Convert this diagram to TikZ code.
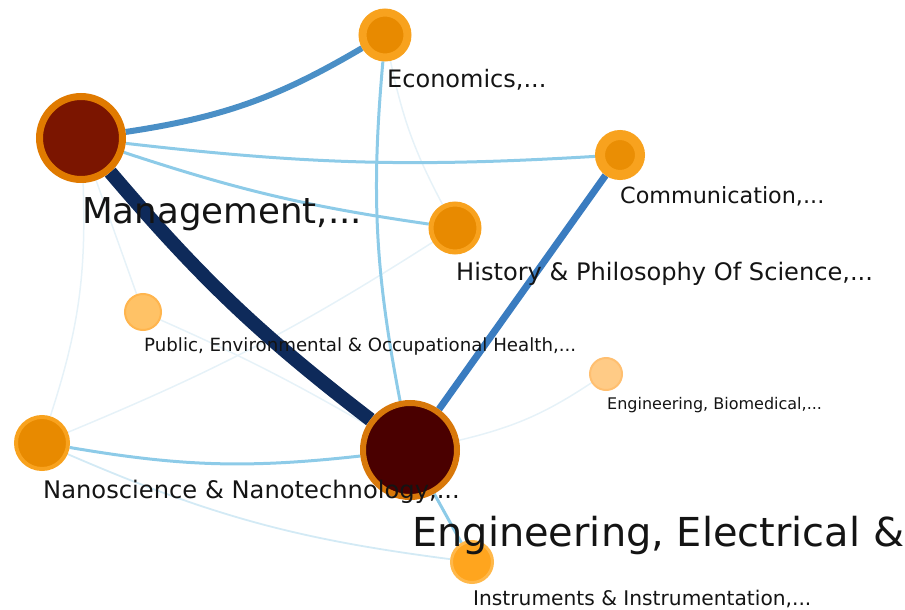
\documentclass[tikz,border=0pt]{standalone}
\usepackage{fontspec}
\setmainfont{DejaVu Sans}
\usetikzlibrary{backgrounds}

% node palette
\definecolor{mgmtfill}{HTML}{7B1500}
\definecolor{mgmtring}{HTML}{E07A00}
\definecolor{eefill}{HTML}{4A0000}
\definecolor{eering}{HTML}{D8780A}
\definecolor{midfill}{HTML}{E88A00}
\definecolor{midring}{HTML}{F8A21E}
\definecolor{pubfill}{HTML}{FFC266}
\definecolor{pubring}{HTML}{FFB54E}
\definecolor{biofill}{HTML}{FFCB86}
\definecolor{bioring}{HTML}{FFBF70}
\definecolor{insfill}{HTML}{FFA51E}
\definecolor{insring}{HTML}{FFB84A}
% edge palette
\definecolor{navy}{HTML}{0E2A5A}
\definecolor{midblue}{HTML}{4A8FC6}
\definecolor{strongblue}{HTML}{3A7CC0}
\definecolor{lightblue}{HTML}{8DCBE8}
\definecolor{paleblue}{HTML}{D3EAF5}
\definecolor{faintblue}{HTML}{E6F2F8}

\tikzset{
  bubble/.style={circle, inner sep=0pt},
  lab/.style={anchor=base west, inner sep=0pt, text=black!92},
  heavy/.style={draw=navy, line width=14pt},
  medium/.style={draw=midblue, line width=6pt},
  strong/.style={draw=strongblue, line width=7pt},
  light/.style={draw=lightblue, line width=3pt},
  pale/.style={draw=paleblue, line width=1.8pt},
  faint/.style={draw=faintblue, line width=1.5pt},
}
\newcommand{\fs}[1]{\fontsize{#1}{#1}\selectfont}

\begin{document}
\begin{tikzpicture}[x=1pt,y=-1pt]
\useasboundingbox (0,0) rectangle (905,610);

% category bubbles
\node[bubble, minimum size=83pt, fill=mgmtfill, draw=mgmtring, line width=7pt] (M) at (81,138) {};
\node[bubble, minimum size=94pt, fill=eefill, draw=eering, line width=6pt] (EE) at (410,450) {};
\node[bubble, minimum size=45pt, fill=midfill, draw=midring, line width=8pt] (Ec) at (385,35) {};
\node[bubble, minimum size=40pt, fill=midfill!85!midring, draw=midring, line width=10pt] (Co) at (620,155) {};
\node[bubble, minimum size=48pt, fill=midfill, draw=midring, line width=5pt] (Hi) at (455,228) {};
\node[bubble, minimum size=52pt, fill=midfill, draw=midring, line width=4pt] (Na) at (42,443) {};
\node[bubble, minimum size=36pt, fill=pubfill, draw=pubring, line width=2pt] (Pu) at (143,312) {};
\node[bubble, minimum size=32pt, fill=biofill, draw=bioring, line width=2pt] (EB) at (606,374) {};
\node[bubble, minimum size=41pt, fill=insfill, draw=insring, line width=3pt] (In) at (472,562) {};

% links, under the bubbles
\begin{scope}[on background layer]
  \draw[faint] (M) to[bend left=10] (Na);
  \draw[faint] (M) to (Pu);
  \draw[faint] (Pu) to[bend left=3] (EE);
  \draw[faint] (Na) to[bend right=5] (Hi);
  \draw[faint] (Ec) to[bend right=8] (Hi);
  \draw[faint] (EE) to[bend right=10] (EB);
  \draw[pale] (Na) to[bend right=8] (In);
  \draw[light] (EE) to (In);
  \draw[light] (Na) to[bend right=8] (EE);
  \draw[light] (Ec) to[bend right=8] (EE);
  \draw[light] (M) to[bend right=5] (Hi);
  \draw[light] (M) to[bend right=5] (Co);
  \draw[medium] (M) to[bend right=11] (Ec);
  \draw[strong] (Co) to (EE);
  \draw[heavy] (M) to[bend right=6] (EE);
\end{scope}

% labels
\node[lab, font=\fs{24}] (Eclab) at (387,88) {Economics,...};
\node[lab, font=\fs{35.6}] (Mlab) at (82,223) {Management,...};
\node[lab, font=\fs{22.3}] (Colab) at (620,203) {Communication,...};
\node[lab, font=\fs{24.1}] (Hilab) at (456,280) {History \& Philosophy Of Science,...};
\node[lab, font=\fs{18.2}] (Pulab) at (144,351) {Public, Environmental \& Occupational Health,...};
\node[lab, font=\fs{16}] (EBlab) at (607,409) {Engineering, Biomedical,...};
\node[lab, font=\fs{24.2}] (Nalab) at (43,498) {Nanoscience \& Nanotechnology,...};
\node[lab, font=\fs{39.9}] (EElab) at (412,546) {Engineering, Electrical \&};
\node[lab, font=\fs{20.2}] (Inlab) at (473,605) {Instruments \& Instrumentation,...};
\end{tikzpicture}
\end{document}
